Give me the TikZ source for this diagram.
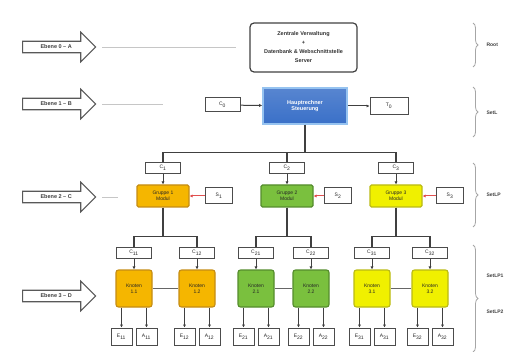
\documentclass[tikz,border=0pt]{standalone}
\usepackage{fontspec}
\setmainfont{Liberation Sans}
\usetikzlibrary{shapes.arrows,arrows.meta,decorations.pathreplacing}
\definecolor{ornfill}{RGB}{245,182,0}
\definecolor{orndraw}{RGB}{196,140,20}
\definecolor{grnfill}{RGB}{122,192,62}
\definecolor{grndraw}{RGB}{84,140,44}
\definecolor{ylwfill}{RGB}{240,240,0}
\definecolor{ylwdraw}{RGB}{186,186,20}
\definecolor{blufill}{RGB}{58,112,200}
\definecolor{bluglow}{RGB}{150,195,240}
\definecolor{redline}{RGB}{225,80,80}
\tikzset{
  tinytext/.style={font=\fontsize{5}{5.8}\selectfont, text=black!85},
  lvlarrow/.style={single arrow, draw=gray!70!black, line width=1.1pt, fill=white,
    minimum height=73pt, single arrow head extend=9pt, inner sep=3.2pt,
    font=\fontsize{5.5}{6}\selectfont\bfseries, text=black!75},
  fadeline/.style={draw=gray!45, line width=0.8pt},
  rootbox/.style={draw=black!75, line width=1.2pt, rounded corners=4pt, align=center,
    minimum width=107pt, minimum height=49pt, inner sep=1pt,
    font=\fontsize{5.5}{9}\selectfont\bfseries, text=black!80},
  mainbox/.style={draw=bluglow, line width=1.6pt, top color=blufill!85!white, bottom color=blufill,
    align=center, minimum width=84pt, minimum height=36pt,
    font=\fontsize{5.5}{6.5}\selectfont\bfseries, text=white},
  smallbox/.style={draw=black!70, line width=1pt, fill=white, minimum width=35pt,
    minimum height=11pt, inner sep=0pt, tinytext},
  sidebox/.style={smallbox, minimum width=27pt, minimum height=16pt},
  grpbox/.style={line width=1.1pt, rounded corners=1.5pt, align=center, minimum width=52pt,
    minimum height=22pt, inner sep=0pt, tinytext},
  nodebox/.style={grpbox, rounded corners=2.5pt, minimum width=36pt, minimum height=37pt},
  endbox/.style={smallbox, minimum width=21pt, minimum height=17pt},
  conn/.style={draw=black!75, line width=1pt, -{Latex[length=3pt,width=3.2pt]}},
  redconn/.style={draw=redline, line width=1pt, -{Latex[length=3pt,width=3.2pt]}},
  trunk/.style={draw=black!75, line width=1.2pt},
  link/.style={draw=black!60, line width=0.7pt},
  levelbrace/.style={draw=gray!70, line width=0.8pt, decorate, decoration={brace, amplitude=5pt}},
  levellabel/.style={anchor=west, font=\fontsize{5}{6}\selectfont\bfseries, text=black!75}
}
\begin{document}
\begin{tikzpicture}[x=1pt,y=-1pt]
\useasboundingbox (0,0) rectangle (518,352);
\foreach \y/\t [count=\i from 0] in {47/Ebene 0 -- A, 104/Ebene 1 -- B, 197/Ebene 2 -- C, 296/Ebene 3 -- D}
  \node[lvlarrow, anchor=tail] (lvl\i) at (22,\y) {\t};
\coordinate (fade0) at (236,47);
\coordinate (fade1) at (163,104);
\coordinate (fade2) at (118,197);
\foreach \i in {0,1,2} \draw[fadeline] ([xshift=6pt]lvl\i.tip) -- (fade\i);
\node[rootbox] (root) at (303.5,47.5) {Zentrale Verwaltung\\+\\Datenbank \& Webschnittstelle\\Server};
\node[mainbox] (main) at (305,106) {Hauptrechner\\Steuerung};
\node[smallbox, minimum height=14pt] (c0) at (222.5,105) {C\textsubscript{0}};
\node[smallbox, minimum width=38pt, minimum height=17pt] (t0) at (389,106) {T\textsubscript{0}};
\draw[conn] (c0) -- (main);
\draw[conn] (main) -- (t0);
\foreach \i/\x/\sx/\col in {1/163/219/orn, 2/287/338/grn, 3/396/450/ylw} {
  \node[smallbox] (c\i) at (\x,168) {C\textsubscript{\i}};
  \node[grpbox, fill=\col fill, draw=\col draw] (g\i) at (\x,196) {Gruppe \i\\Modul};
  \node[sidebox] (s\i) at (\sx,196) {S\textsubscript{\i}};
  \draw[trunk] (main.south) -- ++(0,28) -| (c\i.north);
  \draw[conn] (c\i) -- (g\i);
  \draw[redconn] (s\i) -- (g\i);
}
\foreach \i/\j/\x/\col in {1/1/134/orn, 1/2/197/orn, 2/1/256/grn, 2/2/311/grn, 3/1/372/ylw, 3/2/430/ylw} {
  \node[smallbox] (c\i\j) at (\x,252.5) {C\textsubscript{\i\j}};
  \node[nodebox, fill=\col fill, draw=\col draw] (k\i\j) at (\x,288.5) {Knoten\\\i.\j};
  \node[endbox] (ea\i\j) at ({\x-12.5},336.5) {E\textsubscript{\i\j}};
  \node[endbox] (eb\i\j) at ({\x+12.5},336.5) {A\textsubscript{\i\j}};
  \draw[trunk] (g\i.south) -- ++(0,29) -| (c\i\j.north);
  \draw[conn] (c\i\j) -- (k\i\j);
  \draw[conn] (k\i\j.south -| ea\i\j) -- (ea\i\j);
  \draw[conn] (k\i\j.south -| eb\i\j) -- (eb\i\j);
}
\foreach \i in {1,2,3} \draw[link] (k\i1) -- (k\i2);
\draw[levelbrace] (473,23) -- (473,67);
\draw[levelbrace] (473,87) -- (473,137);
\draw[levelbrace] (473,163) -- (473,227);
\draw[levelbrace] (473,245) -- (473,352);
\node[levellabel] (lroot) at (483,45) {Root};
\node[levellabel] (lsetl) at (483,113) {SetL};
\node[levellabel] (lsetlp) at (483,195) {SetLP};
\node[levellabel] (lsetlpa) at (483,276) {SetLP1};
\node[levellabel] (lsetlpb) at (483,312) {SetLP2};
\end{tikzpicture}
\end{document}
